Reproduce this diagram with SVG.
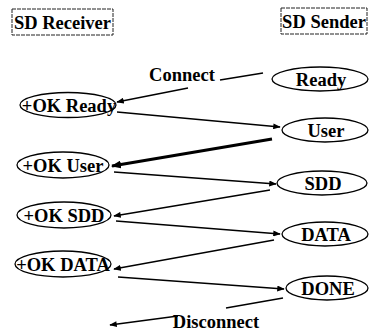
<svg xmlns="http://www.w3.org/2000/svg" width="371" height="331" viewBox="0 0 371 331">
<style>
text{font-family:"Liberation Serif","Times New Roman","DejaVu Serif",serif;font-weight:700;font-size:18.5px;fill:#000;text-anchor:middle}
.n ellipse{fill:none;stroke:#000;stroke-width:1.3}
.hdr rect{fill:none;stroke:#222;stroke-width:1;stroke-dasharray:4 1}
.c line{stroke:#000;stroke-width:1.3}
.c .thick{stroke-width:3}
</style>
<defs>
<marker id="ah" viewBox="0 0 10 8" refX="9" refY="4" markerWidth="8" markerHeight="6" orient="auto" markerUnits="userSpaceOnUse">
<path d="M0,0 L10,4 L0,8 z" fill="#000"/>
</marker>
<marker id="ahb" viewBox="0 0 10 8" refX="9" refY="4" markerWidth="10" markerHeight="8" orient="auto" markerUnits="userSpaceOnUse">
<path d="M0,0 L10,4 L0,8 z" fill="#000"/>
</marker>
</defs>
<rect width="371" height="331" fill="#fff"/>
<g id="receiver" class="hdr"><rect x="12" y="9" width="101" height="26"/><text x="62.5" y="28.5">SD Receiver</text></g>
<g id="sender" class="hdr"><rect x="281" y="8" width="86" height="26"/><text x="324" y="27.5">SD Sender</text></g>
<g id="connect"><text x="182" y="81">Connect</text></g>
<g id="disconnect"><text x="216" y="328">Disconnect</text></g>
<g id="ready" class="n"><ellipse cx="320" cy="79" rx="48" ry="12"/><text x="321" y="85.5">Ready</text></g>
<g id="okready" class="n"><ellipse cx="68" cy="105" rx="48" ry="12.5"/><text x="69" y="111.5">+OK Ready</text></g>
<g id="user" class="n"><ellipse cx="325" cy="130" rx="43" ry="12"/><text x="326" y="136.5">User</text></g>
<g id="okuser" class="n"><ellipse cx="63" cy="165" rx="46" ry="13"/><text x="63" y="171.5">+OK User</text></g>
<g id="sdd" class="n"><ellipse cx="322" cy="183" rx="45" ry="12"/><text x="323" y="189.5">SDD</text></g>
<g id="oksdd" class="n"><ellipse cx="64" cy="215" rx="47" ry="13"/><text x="64" y="221.5">+OK SDD</text></g>
<g id="data" class="n"><ellipse cx="325" cy="234" rx="43" ry="12"/><text x="326" y="240.5">DATA</text></g>
<g id="okdata" class="n"><ellipse cx="63" cy="264" rx="48" ry="13"/><text x="63" y="270.5">+OK DATA</text></g>
<g id="done" class="n"><ellipse cx="327" cy="288" rx="41" ry="12"/><text x="328" y="294.5">DONE</text></g>
<g id="connectors" class="c">
<line x1="263" y1="73" x2="220" y2="80"/>
<line x1="188" y1="88" x2="117" y2="102" marker-end="url(#ah)"/>
<line x1="117" y1="112" x2="280" y2="127" marker-end="url(#ah)"/>
<line class="thick" x1="272" y1="139" x2="112" y2="166" marker-end="url(#ahb)"/>
<line x1="114" y1="172" x2="276" y2="184" marker-end="url(#ah)"/>
<line x1="270" y1="190" x2="114" y2="216" marker-end="url(#ah)"/>
<line x1="116" y1="221" x2="280" y2="234" marker-end="url(#ah)"/>
<line x1="274" y1="240" x2="114" y2="269" marker-end="url(#ah)"/>
<line x1="118" y1="277" x2="284" y2="289" marker-end="url(#ah)"/>
<line x1="283" y1="298" x2="226" y2="308"/>
<line x1="178" y1="316" x2="110" y2="325" marker-end="url(#ah)"/>
</g>
</svg>
